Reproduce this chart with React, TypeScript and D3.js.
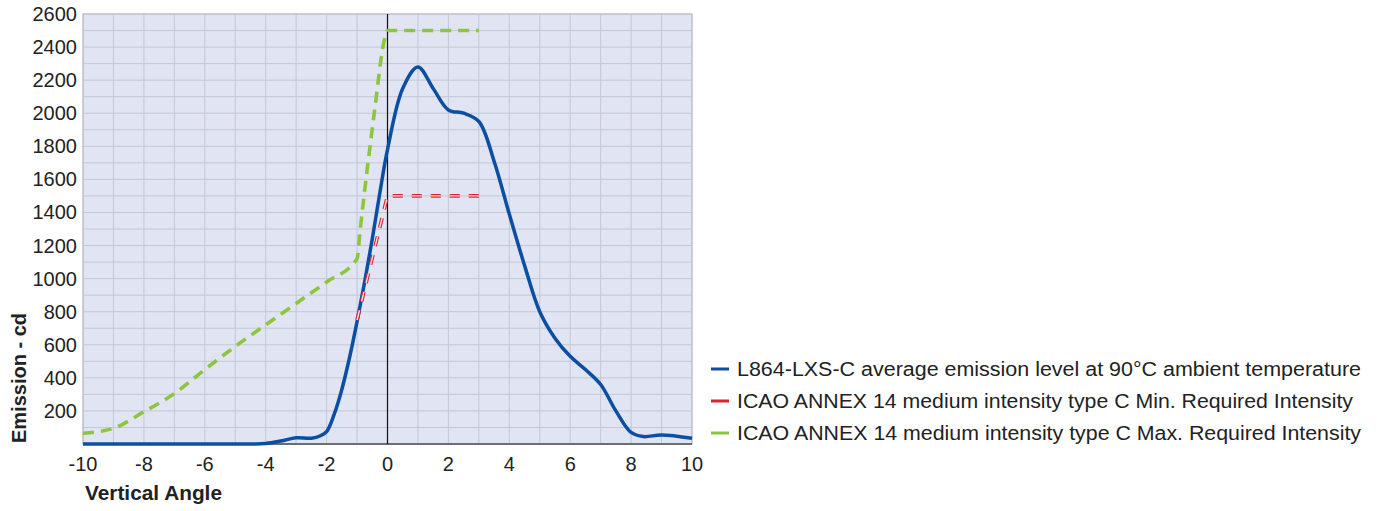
import * as d3 from "d3";

const W = 1378;
const H = 511;
const left = 83;
const right = 692;
const top = 14;
const bottom = 444;

// L864-LXS-C measured emission
const blueX = [-10, -8, -6, -4.5, -4, -3.5, -3, -2.5, -2.2, -2, -1.75, -1.5, -1.25, -1, -0.75, -0.5, -0.25, 0, 0.5, 1, 1.5, 2, 2.5, 3, 3.5, 4, 4.5, 5, 5.5, 6, 6.5, 7, 7.5, 8, 8.4, 9, 10];
const blueY = [0, 0, 0, 0, 3, 18, 38, 35, 50, 75, 180, 330, 520, 740, 980, 1240, 1520, 1780, 2150, 2280, 2150, 2020, 2000, 1950, 1710, 1390, 1080, 800, 640, 530, 450, 360, 200, 70, 45, 55, 35];

// ICAO min
const minX = [-1, 0, 3];
const minY = [750, 1500, 1500];

// ICAO max
const maxX = [-10, -9, -8, -7, -6, -5, -4, -3, -2, -1, -0.9, -0.68, -0.4, -0.13, 0, 3];
const maxY = [65, 95, 195, 305, 450, 590, 720, 850, 980, 1120, 1290, 1640, 2050, 2420, 2500, 2500];

const xTicks = [-10, -8, -6, -4, -2, 0, 2, 4, 6, 8, 10];
const yTicks = [200, 400, 600, 800, 1000, 1200, 1400, 1600, 1800, 2000, 2200, 2400, 2600];

const legendLabels = [
  "L864-LXS-C average emission level at 90°C ambient temperature",
  "ICAO ANNEX 14 medium intensity type C Min. Required Intensity",
  "ICAO ANNEX 14 medium intensity type C Max. Required Intensity",
];
const legendWidths = [624, 616, 624];
const colors = ["#0b4fa2", "#d8262f", "#8cc63f"];

const font = "'Liberation Sans', Arial, sans-serif";

export default function App() {
  const x = d3.scaleLinear().domain([-10, 10]).range([left, right]);
  const y = d3.scaleLinear().domain([0, 2600]).range([bottom, top]);

  const smooth = d3
    .line<number>()
    .x((_, i) => x(blueX[i]))
    .y((d) => Math.min(y(d), bottom))
    .curve(d3.curveCatmullRom.alpha(0.5));
  const straight = d3
    .line<number>()
    .x((_, i) => x(minX[i]))
    .y((d) => y(d));
  const green = d3
    .line<number>()
    .x((_, i) => x(maxX[i]))
    .y((d) => y(d))
    .curve(d3.curveMonotoneX);

  const vGrid = d3.range(-10, 11, 1);
  const hGrid = d3.range(0, 2601, 100);

  return (
    <svg width={W} height={H} style={{ position: "absolute", left: 0, top: 0 }} fontFamily={font}>
      <rect x={left} y={top} width={right - left} height={bottom - top} fill="#e1e4f2" />
      {vGrid.map((v) => (
        <line key={"v" + v} x1={x(v)} x2={x(v)} y1={top} y2={bottom} stroke="#c5c7d4" strokeWidth={1} />
      ))}
      {hGrid.map((v) => (
        <line key={"h" + v} x1={left} x2={right} y1={y(v)} y2={y(v)} stroke="#c5c7d4" strokeWidth={1} />
      ))}
      <rect x={left} y={top} width={right - left} height={bottom - top} fill="none" stroke="#b8bac4" strokeWidth={1} />
      <line x1={x(0)} x2={x(0)} y1={top} y2={bottom} stroke="#111" strokeWidth={1.2} />
      <line x1={left} x2={right} y1={bottom} y2={bottom} stroke="#111" strokeWidth={1.2} />

      <path d={smooth(blueY) || ""} fill="none" stroke={colors[0]} strokeWidth={3.5} />
      <path d={straight(minY) || ""} fill="none" stroke={colors[1]} strokeWidth={3.6} strokeDasharray="10 9" />
      <path d={straight(minY) || ""} fill="none" stroke="#f3dfe6" strokeWidth={1.4} strokeDasharray="10 9" />
      <path d={green(maxY) || ""} fill="none" stroke={colors[2]} strokeWidth={3.6} strokeDasharray="11 7" />

      {yTicks.map((v) => (
        <text key={"yt" + v} x={77} y={y(v) + 7} textAnchor="end" fontSize={20} fill="#222">
          {v}
        </text>
      ))}
      {xTicks.map((v) => (
        <text key={"xt" + v} x={x(v)} y={471} textAnchor="middle" fontSize={20} fill="#222">
          {v}
        </text>
      ))}

      <text x={85} y={500} fontSize={20} fontWeight="bold" fill="#222" textLength={137} lengthAdjust="spacingAndGlyphs">
        Vertical Angle
      </text>
      <text
        transform={`translate(26,378) rotate(-90)`}
        textAnchor="middle"
        fontSize={20}
        fontWeight="bold"
        fill="#222"
      >
        Emission - cd
      </text>

      {legendLabels.map((t, i) => (
        <g key={t} transform={`translate(0,${369 + i * 32})`}>
          <line x1={711} x2={729} y1={0} y2={0} stroke={colors[i]} strokeWidth={3} />
          <text x={737} y={7} fontSize={20} fill="#222" textLength={legendWidths[i]} lengthAdjust="spacingAndGlyphs">
            {t}
          </text>
        </g>
      ))}
    </svg>
  );
}
